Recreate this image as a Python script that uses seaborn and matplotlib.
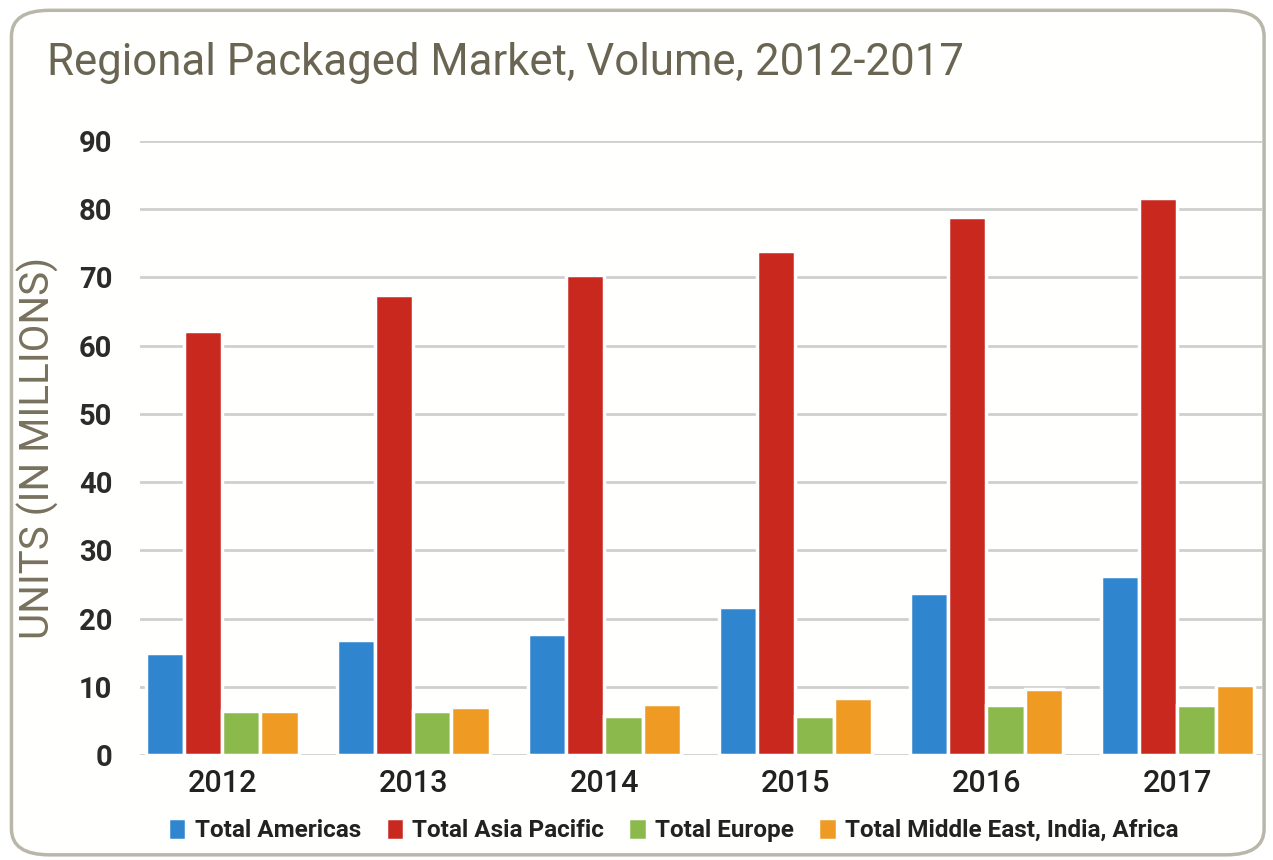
import numpy as np
import pandas as pd
import seaborn as sns
import matplotlib
matplotlib.use("Agg")
import matplotlib.pyplot as plt
from matplotlib.patches import FancyBboxPatch

# Data: units in millions per region and year
years = ["2012", "2013", "2014", "2015", "2016", "2017"]
americas = [14.9, 16.8, 17.8, 21.7, 23.7, 26.2]
asia_pacific = [62.2, 67.5, 70.3, 73.9, 78.8, 81.7]
europe = [6.4, 6.4, 5.8, 5.8, 7.4, 7.4]
meia = [6.4, 7.1, 7.5, 8.4, 9.7, 10.2]
regions = ["Total Americas", "Total Asia Pacific", "Total Europe",
           "Total Middle East, India, Africa"]
colors = ["#2f86cf", "#c9281f", "#8cb94b", "#ee9a23"]
y_ticks = [0, 10, 20, 30, 40, 50, 60, 70, 80, 90]

df = pd.DataFrame({
    "year": years * 4,
    "region": sum([[r] * len(years) for r in regions], []),
    "value": americas + asia_pacific + europe + meia,
})

sns.set_theme(style="white")
plt.rcParams["font.family"] = ["Roboto", "DejaVu Sans"]

fig = plt.figure(figsize=(12.73, 8.60), dpi=100)
fig.patch.set_facecolor("white")

# rounded frame around the whole graphic
frame = FancyBboxPatch((0.009, 0.006), 0.984, 0.982,
                       boxstyle="round,pad=0,rounding_size=0.03",
                       transform=fig.transFigure, facecolor="#fffffd",
                       edgecolor="#b9b6aa", linewidth=2.5, zorder=-5)
fig.patches.append(frame)

ax = fig.add_axes([0.110, 0.122, 0.881, 0.714])
ax.set_zorder(5)
ax.set_facecolor("none")

sns.barplot(data=df, x="year", y="value", hue="region", palette=colors,
            width=0.8, saturation=1, edgecolor="white", linewidth=2.5,
            ax=ax, legend=True, zorder=3)

ax.set_ylim(0, 90)
ax.set_xlim(-0.43, 5.44)
ax.set_yticks(y_ticks)
ax.set_yticklabels([str(t) for t in y_ticks], fontsize=21, color="#2b2b2b",
                   fontweight="bold")
for lbl in ax.get_xticklabels():
    lbl.set_fontweight("medium")
ax.tick_params(axis="y", length=0, pad=20)
ax.tick_params(axis="x", length=0, pad=10, labelsize=22, labelcolor="#222222")
ax.grid(axis="y", color="#cfcfcf", linewidth=2, zorder=0)
ax.set_axisbelow(True)
for s in ax.spines.values():
    s.set_visible(False)
ax.set_xlabel("")
ax.set_ylabel("UNITS (IN MILLIONS)", fontsize=29, color="#77715e",
              labelpad=14)

fig.text(0.037, 0.927, "Regional Packaged Market, Volume, 2012-2017",
         fontsize=31.5, color="#6a6553", ha="left", va="center")

handles, labels = ax.get_legend_handles_labels()
ax.legend_.remove()
leg = fig.legend(handles, labels, loc="center", bbox_to_anchor=(0.529, 0.035),
                 ncol=4, frameon=False, fontsize=17.5, handlelength=0.75,
                 handleheight=1.0, handletextpad=0.35, columnspacing=1.0)
for t in leg.get_texts():
    t.set_color("#222222")
    t.set_fontweight("bold")

fig.savefig("out.png", dpi=100, facecolor="white")
